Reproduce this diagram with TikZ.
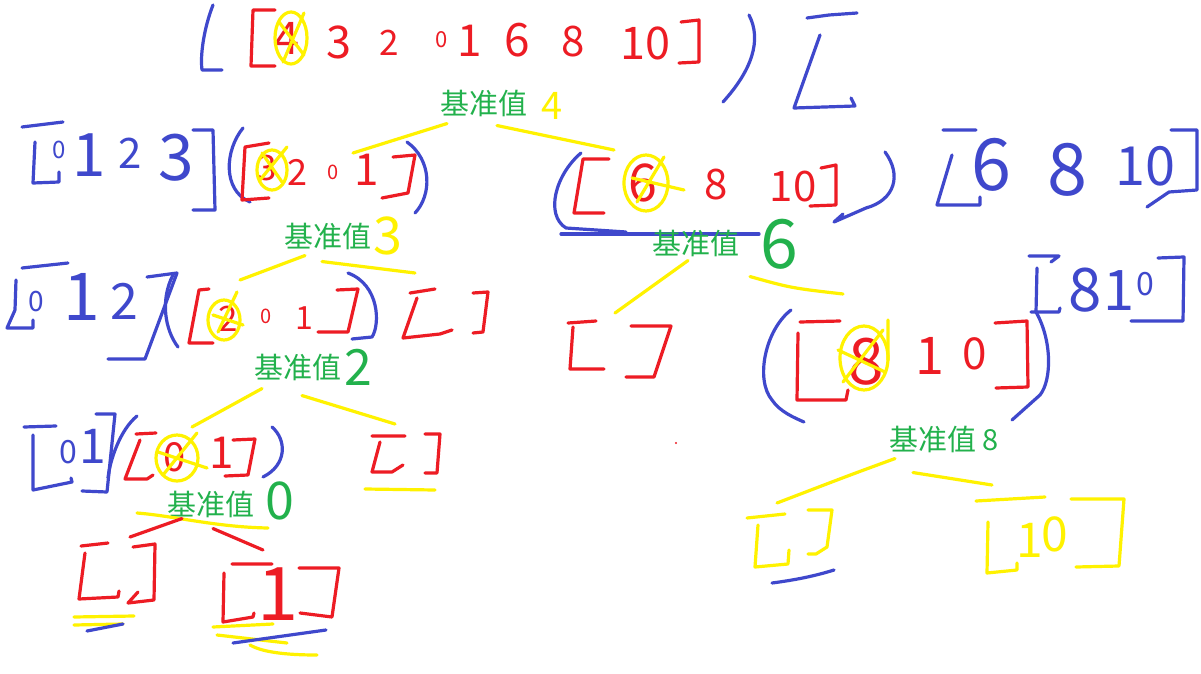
\documentclass[tikz,border=0pt]{standalone}
\usepackage{fontspec}
\setmainfont{Noto Sans CJK SC}
\definecolor{pred}{HTML}{ED1C24}
\definecolor{pblue}{HTML}{3F48CC}
\definecolor{pyellow}{HTML}{FFF200}
\definecolor{pgreen}{HTML}{22B14C}
\tikzset{
  pen/.style={line width=3.2pt, line cap=round, line join=round},
  bl/.style={pen, draw=pblue},
  rd/.style={pen, draw=pred},
  yl/.style={pen, draw=pyellow},
  dig/.style={inner sep=0pt, font=\fontsize{#1}{#1}\selectfont},
  dig/.default=46,
  pivot/.style={inner sep=0pt, text=pgreen, font=\fontsize{29}{29}\selectfont},
}
\begin{document}
\begin{tikzpicture}[x=1pt,y=-1pt]
\useasboundingbox[fill=white] (0,0) rectangle (1201,674);

% whole array, pivot 4
\draw[bl] (213,5) .. controls (204,28) and (200,55) .. (202,70) -- (222,70);
\draw[rd] (275,10) -- (253,10) -- (251,66) -- (275,66);
\node[dig=45,text=pred] (a4) at (287,38) {4};
\node[dig=45,text=pred] (a3) at (339,42) {3};
\node[dig=35,text=pred] (a2) at (389,43) {2};
\node[dig=22,text=pred] (a0) at (442,40) {0};
\node[dig=44,text=pred] (a1) at (470,41) {1};
\node[dig=46,text=pred] (a6) at (517,40) {6};
\node[dig=42,text=pred] (a8) at (573,42) {8};
\node[dig=45,text=pred] (a10) at (645,43) {10};
\draw[rd] (681,22) -- (699,20) -- (699,62) -- (679,63);
\draw[yl] (291,38) ellipse [x radius=16, y radius=26];
\draw[yl] (279,22) -- (304,55) (304,13) -- (283,62);
\draw[bl] (749,15) .. controls (762,40) and (752,70) .. (723,102);
\draw[bl] (807,18) -- (829,15) -- (857,13) (820,35) -- (794,108) -- (855,106) -- (851,98);
\node[pivot] (b4) at (484,103) {基准值};
\node[dig=38,text=pyellow] (v4) at (552,106) {4};

% left part [3 2 0 1]
\draw[bl] (22,127) -- (63,122) (35,142) -- (33,183) -- (59,182) -- (59,172);
\node[dig=24,text=pblue] (c0) at (59,150) {0};
\node[dig=60,text=pblue] (c1) at (89,155) {1};
\node[dig=42,text=pblue] (c2) at (130,153) {2};
\node[dig=64,text=pblue] (c3) at (176,158) {3};
\draw[bl] (193,130) -- (213,130) -- (215,210) -- (193,210);
\draw[bl] (243,128) .. controls (225,150) and (222,190) .. (250,202);
\draw[rd] (269,143) -- (245,147) -- (242,200) -- (269,198);
\node[dig=35,text=pred] (d3) at (267,168) {3};
\node[dig=36,text=pred] (d2) at (297,172) {2};
\node[dig=20,text=pred] (d0) at (333,172) {0};
\node[dig=44,text=pred] (d1) at (367,170) {1};
\draw[rd] (393,157) -- (415,155) -- (408,193) -- (382,198);
\draw[yl] (272,170) ellipse [x radius=15, y radius=20];
\draw[yl] (262,153) -- (282,182) (287,147) -- (260,180);
\draw[bl] (407,142) .. controls (432,160) and (432,195) .. (415,213);
\node[pivot] (b3) at (328,236) {基准值};
\node[dig=52,text=pyellow] (v3) at (388,236) {3};

% right part [6 8 10]
\draw[bl] (581,153) .. controls (555,175) and (545,215) .. (566,228) -- (626,232);
\draw[bl] (561,234) -- (759,234);
\draw[rd] (609,159) -- (583,159) -- (574,213) -- (604,213);
\node[dig=52,text=pred] (e6) at (643,183) {6};
\node[dig=42,text=pred] (e8) at (716,185) {8};
\node[dig=42,text=pred] (e10) at (793,187) {10};
\draw[rd] (821,168) -- (836,165) -- (836,205) -- (810,206);
\draw[yl] (646,183) ellipse [x radius=22, y radius=28];
\draw[yl] (632,178) -- (684,190) (664,157) -- (637,202);
\draw[bl] (885,152) .. controls (902,175) and (895,200) .. (866,208) -- (834,222) -- (843,214);
\draw[bl] (943,130) -- (976,130) (952,155) -- (937,205) -- (980,205) -- (980,197);
\node[dig=72,text=pblue] (f6) at (991,165) {6};
\node[dig=72,text=pblue] (f8) at (1067,170) {8};
\node[dig=54,text=pblue] (f10) at (1145,166) {10};
\draw[bl] (1171,130) -- (1197,130) -- (1197,190) -- (1169,192) -- (1147,207);
\node[pivot] (b6) at (696,243) {基准值};
\node[dig=68,text=pgreen] (v6) at (779,244) {6};

% [2 0 1]
\draw[bl] (22,268) -- (68,263) (16,280) -- (15,310) -- (7,328) -- (33,328) -- (33,320);
\node[dig=28,text=pblue] (g0) at (36,302) {0};
\node[dig=66,text=pblue] (g1) at (82,297) {1};
\node[dig=50,text=pblue] (g2) at (124,301) {2};
\draw[bl] (147,277) -- (177,273) -- (145,359) -- (108,359);
\draw[bl] (173,275) .. controls (160,300) and (165,330) .. (178,347);
\draw[rd] (209,289) -- (199,290) -- (189,343) -- (213,343);
\node[dig=35,text=pred] (h2) at (228,319) {2};
\node[dig=20,text=pred] (h0) at (266,316) {0};
\node[dig=32,text=pred] (h1) at (304,318) {1};
\draw[rd] (337,290) -- (358,289) -- (348,332) -- (318,332);
\draw[yl] (224,320) ellipse [x radius=16, y radius=20];
\draw[yl] (237,292) -- (218,332) (213,315) -- (243,325);
\draw[bl] (348,273) .. controls (380,285) and (380,325) .. (372,337) -- (352,339);
\draw[rd] (410,293) -- (435,289) (417,298) -- (403,338) -- (440,334) -- (452,330);
\draw[rd] (473,293) -- (488,292) -- (483,332) -- (473,333);
\node[pivot] (b2) at (298,367) {基准值};
\node[dig=50,text=pgreen] (v2) at (358,367) {2};

% [] and [8 10]
\draw[rd] (568,323) -- (596,321) (573,327) -- (570,369) -- (604,369);
\draw[rd] (631,326) -- (671,326) -- (654,377) -- (626,377);
\draw[bl] (791,310) .. controls (765,330) and (755,380) .. (772,400) .. controls (780,412) and (795,418) .. (804,422);
\draw[rd] (840,321) -- (800,322) (798,333) -- (797,400) -- (846,400) -- (848,390);
\node[dig=64,text=pred] (k8) at (866,362) {8};
\node[dig=52,text=pred] (k1) at (930,356) {1};
\node[dig=44,text=pred] (k0) at (975,354) {0};
\draw[rd] (995,323) -- (1027,321) -- (1028,387) -- (996,388);
\draw[yl] (864,358) ellipse [x radius=24, y radius=32];
\draw[yl] (838,350) -- (885,372) (883,330) -- (843,382) (888,320) -- (888,360);
\draw[bl] (1036,312) .. controls (1052,340) and (1052,380) .. (1040,395) -- (1012,420);
\draw[bl] (1029,256) -- (1059,256) -- (1051,262) (1037,268) -- (1036,312) (1031,312) -- (1059,312) -- (1060,308);
\node[dig=60,text=pblue] (m8) at (1085,290) {8};
\node[dig=56,text=pblue] (m1) at (1119,291) {1};
\node[dig=32,text=pblue] (m0) at (1145,284) {0};
\draw[bl] (1158,258) -- (1184,257) -- (1183,321) -- (1131,321);
\node[pivot] (b8) at (944,439) {基准值 8};
\fill[pred] (676,443) circle (1.2);

% [0 1]
\draw[bl] (24,427) -- (56,426) (33,435) -- (33,490) -- (72,482) -- (71,478);
\node[dig=32,text=pblue] (n0) at (68,452) {0};
\node[dig=48,text=pblue] (n1) at (93,446) {1};
\draw[bl] (96,414) -- (115,414) -- (107,492) -- (82,491);
\draw[bl] (137,416) .. controls (120,430) and (110,460) .. (108,478);
\draw[rd] (136,434) -- (156,433) (140,440) -- (125,479) -- (147,479) -- (153,475);
\node[dig=40,text=pred] (p0) at (175,457) {0};
\node[dig=44,text=pred] (p1) at (222,453) {1};
\draw[rd] (233,440) -- (255,439) -- (248,475) -- (225,476);
\draw[yl] (177,458) ellipse [x radius=21, y radius=23];
\draw[yl] (197,433) -- (163,475) (158,452) -- (207,468);
\draw[bl] (272,427) .. controls (287,440) and (287,465) .. (263,477);
\draw[rd] (372,436) -- (405,436) (380,442) -- (372,472) -- (392,472) -- (403,465);
\draw[rd] (425,434) -- (440,434) -- (437,473) -- (425,473);
\draw[yl] (365,489) -- (435,490);
\node[pivot] (b0) at (211,504) {基准值};
\node[dig=52,text=pgreen] (v0) at (280,501) {0};
\draw[yl] (137,513) .. controls (175,516) and (215,527) .. (268,528);

% [] and [1]
\draw[rd] (81,546) -- (108,543) (85,553) -- (79,599) -- (118,597) -- (119,591);
\draw[rd] (133,547) -- (155,544) -- (154,600) -- (128,603) -- (138,592);
\draw[yl] (74,617) -- (134,616) (74,625) -- (123,624);
\draw[bl] (87,631) -- (123,624);
\draw[rd] (232,564) -- (272,564) (224,573) -- (223,622) -- (253,617) -- (254,613);
\node[dig=74,text=pred] (q1) at (278,594) {1};
\draw[rd] (299,568) -- (339,568) -- (332,617) -- (300,613);
\draw[yl] (213,627) -- (273,624) (217,635) -- (287,643);
\draw[yl] (250,645) .. controls (262,652) and (285,655) .. (317,655);
\draw[bl] (233,643) -- (326,630);

% [] and [10]
\draw[yl] (747,518) -- (785,514) (758,525) -- (755,567) -- (788,564) -- (789,550);
\draw[yl] (808,510) -- (832,510) -- (827,547) -- (816,554) -- (808,554);
\draw[bl] (772,583) .. controls (795,580) and (815,576) .. (834,570);
\draw[yl] (976,501) -- (1045,497) (988,522) -- (987,573) -- (1017,570) -- (1017,563);
\node[dig=48,text=pyellow] (s1) at (1030,540) {1};
\node[dig=48,text=pyellow] (s0) at (1055,534) {0};
\draw[yl] (1071,499) -- (1124,499) -- (1119,566) -- (1076,567);

% branches
\coordinate (l4) at (353,153);
\coordinate (r4) at (614,150);
\coordinate (l3) at (240,280);
\coordinate (r3) at (415,273);
\coordinate (l6) at (615,313);
\coordinate (r6) at (843,294);
\coordinate (l2) at (192,427);
\coordinate (r2) at (395,424);
\coordinate (l0) at (130,537);
\coordinate (r0) at (263,550);
\coordinate (l8) at (777,503);
\coordinate (r8) at (992,485);
\draw[yl] ([shift={(-37,7)}]b4.south) -- (l4);
\draw[yl] ([shift={(13,9)}]b4.south) -- (r4);
\draw[yl] ([shift={(-23,6)}]b3.south) -- (l3);
\draw[yl] ([shift={(-6,12)}]b3.south) -- (r3);
\draw[yl] ([shift={(-8,4)}]b6.south) -- (l6);
\draw[yl] ([shift={(54,20)}]b6.south) .. controls (791,288) .. (r6);
\draw[yl] ([shift={(-36,8)}]b2.south) -- (l2);
\draw[yl] ([shift={(4,15)}]b2.south) -- (r2);
\draw[rd] ([shift={(-29,1)}]b0.south) -- (l0);
\draw[rd] ([shift={(2,11)}]b0.south) -- (r0);
\draw[yl] ([shift={(-49,6)}]b8.south) .. controls (850,475) .. (l8);
\draw[yl] ([shift={(-31,20)}]b8.south) -- (r8);
\end{tikzpicture}
\end{document}
